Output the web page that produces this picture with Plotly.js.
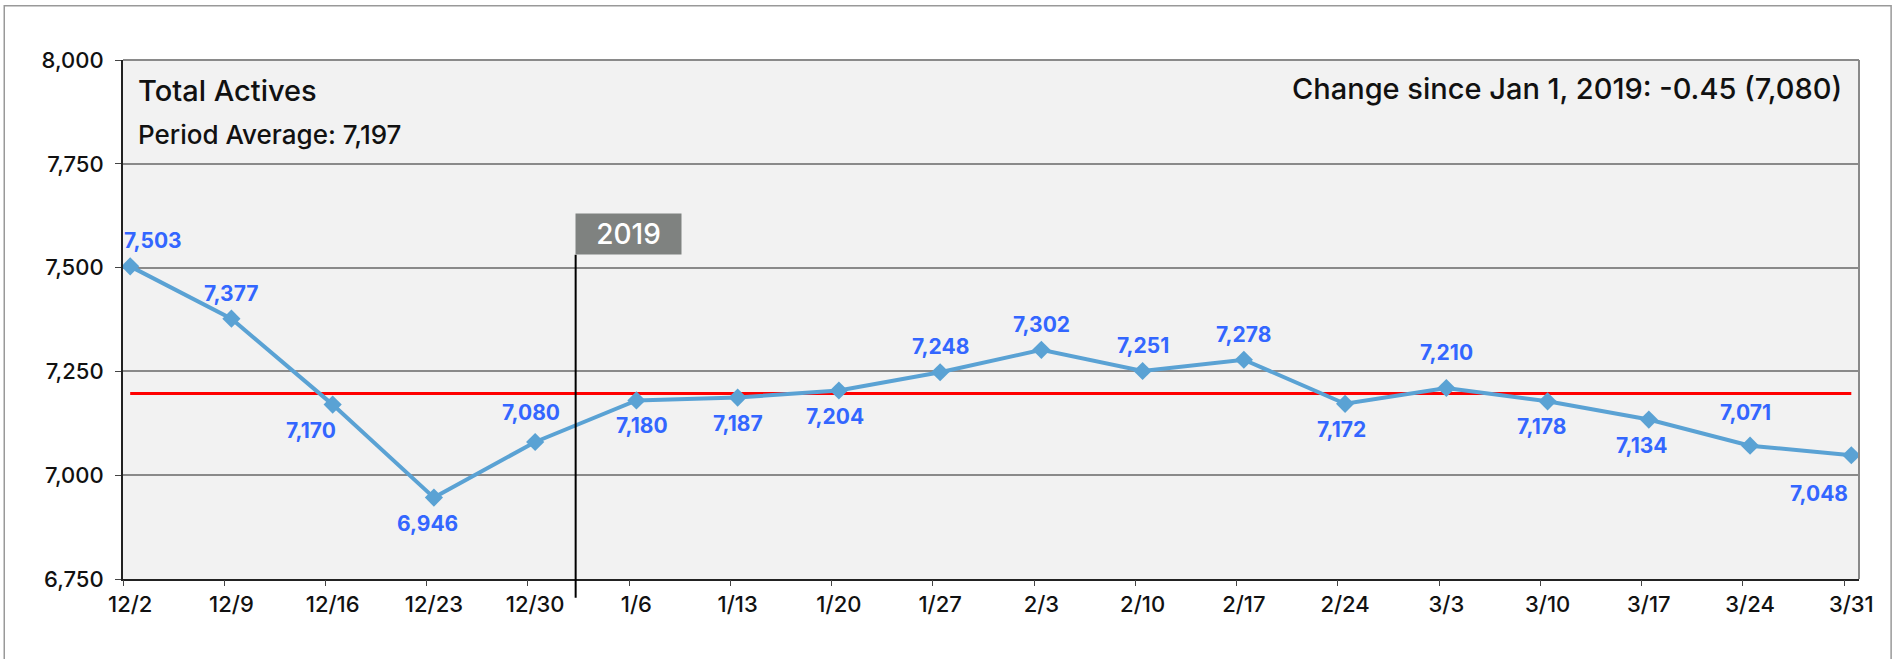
<!DOCTYPE html>
<html><head><meta charset="utf-8">
<script src="https://cdn.plot.ly/plotly-3.0.1.min.js"></script>
<style>html,body{margin:0;padding:0;background:#fff;}#chart{width:1895px;height:659px;}</style>
</head><body><div id="chart"></div>
<script>
// ---- data ----
const weeks = ['12/2','12/9','12/16','12/23','12/30','1/6','1/13','1/20','1/27','2/3','2/10','2/17','2/24','3/3','3/10','3/17','3/24','3/31'];
const actives = [7503,7377,7170,6946,7080,7180,7187,7204,7248,7302,7251,7278,7172,7210,7178,7134,7071,7048];
const periodAverage = 7197;
const yTicks = [6750,7000,7250,7500,7750,8000];
const chartTitle = 'Total Actives';
const averageText = 'Period Average: 7,197';
const changeText = 'Change since Jan 1, 2019: -0.45 (7,080)';
const yearMarker = '2019';

// ---- label placement (style only) ----
const labelSide = ['a','a','b','b','a','b','b','b','a','a','a','a','b','a','b','b','a','b'];
const labelDx = [23,0,-22,-6,-4,6,0,-4,0,0,0,0,-4,0,-6,-7,-5,-32];
const labelDy = [11,11,-11,-11,15,-11,-11,-11,11,11,11,11,-11,21,-11,-11,19,-24];

const FONT = 'Inter, "Open Sans", sans-serif';
const fmt = v => v.toLocaleString('en-US');
const idx = weeks.map((_, i) => i);

const traces = [
  {x: weeks, y: weeks.map(() => periodAverage), type: 'scatter', mode: 'lines',
   line: {color: '#ff0000', width: 3}, hoverinfo: 'skip', showlegend: false},
  {x: weeks, y: actives, type: 'scatter', mode: 'lines+markers',
   line: {color: '#5aa2d4', width: 4},
   marker: {symbol: 'diamond', size: 14, color: '#5aa2d4'},
   showlegend: false},
  {x: [], y: [], xaxis: 'x2', yaxis: 'y', type: 'scatter', showlegend: false, hoverinfo: 'skip'}
];

const annotations = actives.map((v, i) => ({
  x: weeks[i], y: v, xref: 'x', yref: 'y', text: fmt(v), showarrow: false,
  font: {family: FONT, size: 21, color: '#3366ff', weight: 700},
  xshift: labelDx[i], yshift: labelDy[i],
  yanchor: labelSide[i] === 'a' ? 'bottom' : 'top', xanchor: 'center'
}));

annotations.push(
  {xref: 'paper', yref: 'paper', x: 0, xshift: 13, y: 0.941, xanchor: 'left', yanchor: 'middle',
   text: chartTitle, showarrow: false, font: {family: FONT, size: 29, color: '#111', weight: 500}},
  {xref: 'paper', yref: 'paper', x: 0, xshift: 13, y: 0.857, xanchor: 'left', yanchor: 'middle',
   text: averageText, showarrow: false, font: {family: FONT, size: 26, color: '#111', weight: 500}},
  {xref: 'paper', yref: 'paper', x: 1, xshift: -15, y: 0.945, xanchor: 'right', yanchor: 'middle',
   text: changeText, showarrow: false, font: {family: FONT, size: 29, color: '#111', weight: 500}},
  {xref: 'x', yref: 'paper', x: 4.39, y: 0.625, xanchor: 'left', yanchor: 'bottom',
   width: 105, height: 40, borderpad: 0, bgcolor: '#7f8280', align: 'center', valign: 'middle',
   text: yearMarker, showarrow: false, font: {family: FONT, size: 28, color: '#ffffff', weight: 500}}
);

const shapes = [
  {type: 'line', xref: 'x', yref: 'paper', x0: 4.4, x1: 4.4, y0: -0.036, y1: 0.625,
   line: {color: '#000', width: 2}},
  {type: 'line', xref: 'paper', yref: 'paper', x0: 0, x1: 1, y0: 1, y1: 1, line: {color: '#8a8a8a', width: 2}},
  {type: 'line', xref: 'paper', yref: 'paper', x0: 1, x1: 1, y0: 0, y1: 1, line: {color: '#8a8a8a', width: 2}},
  {type: 'rect', xref: 'paper', yref: 'paper', x0: -0.0684, x1: 1.0185, y0: -0.3, y1: 1.1046,
   line: {color: '#999', width: 1.5}, layer: 'below'}
];

const layout = {
  width: 1895, height: 659,
  margin: {l: 123, r: 36, t: 60, b: 80},
  paper_bgcolor: '#ffffff', plot_bgcolor: '#f2f2f2',
  font: {family: FONT, color: '#111'},
  xaxis: {
    type: 'category', range: [-0.071, 17.076], showgrid: false, zeroline: false,
    tickvals: weeks, ticktext: weeks, ticks: 'outside', ticklen: 5, tickcolor: 'rgba(0,0,0,0)',
    tickfont: {family: FONT, size: 22, color: '#111', weight: 500},
    showline: true, linecolor: '#222', linewidth: 2
  },
  xaxis2: {
    overlaying: 'x', anchor: 'y', side: 'bottom', type: 'linear', range: [-0.071, 17.076],
    tickvals: idx.map(i => i - 0.071), showticklabels: false, ticks: 'outside', ticklen: 6,
    tickcolor: '#444', tickwidth: 1, showgrid: false, zeroline: false, showline: false
  },
  yaxis: {
    range: [6750, 8000], tickvals: yTicks, ticktext: yTicks.map(fmt),
    ticks: 'outside', ticklen: 6, tickcolor: '#444', ticklabelstandoff: 7,
    tickfont: {family: FONT, size: 22, color: '#111', weight: 500},
    showgrid: true, gridcolor: '#8a8a8a', gridwidth: 2, zeroline: false,
    showline: true, linecolor: '#222', linewidth: 2
  },
  annotations: annotations,
  shapes: shapes,
  hovermode: false
};

Plotly.newPlot('chart', traces, layout, {displayModeBar: false, staticPlot: true});
</script>
</body></html>
